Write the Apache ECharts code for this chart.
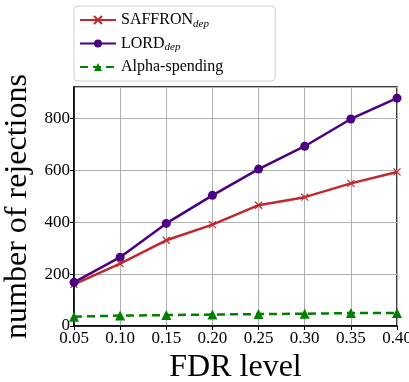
<!DOCTYPE html>
<html>
<head>
<meta charset="utf-8">
<script src="https://cdn.jsdelivr.net/npm/echarts@6/dist/echarts.min.js"></script>
<style>
html,body{margin:0;padding:0;background:#fff;}
#main{width:409px;height:382px;}
</style>
</head>
<body>
<div id="main"></div>
<script>
// FDR levels on the x axis
var fdrLevels = ['0.05','0.10','0.15','0.20','0.25','0.30','0.35','0.40'];
// number of rejections per method
var saffronDep = [160, 240, 330, 390, 465, 496, 549, 593];
var lordDep = [168, 265, 395, 503, 604, 692, 797, 877];
var alphaSpending = [36, 40, 42, 44, 46, 47, 50, 50];

var serif = 'Liberation Serif';
var xMark = 'path://M0,0L10,10M10,0L0,10';

var myChart = echarts.init(document.getElementById('main'));

var option = {
	animation: false,
	textStyle: {fontFamily: serif},
	legend: {
		orient: 'vertical',
		left: 74,
		top: 6,
		padding: [6, 52, 6, 5],
		itemGap: 6,
		itemWidth: 36,
		itemHeight: 10,
		borderColor: '#d0d0d0',
		borderWidth: 1,
		borderRadius: 4,
		data: ['SAFFRON', 'LORD', 'Alpha-spending'],
		formatter: function(name){
			if(name == 'Alpha-spending') return '{a|Alpha-spending}';
			return '{a|' + name + '}{b|dep}';
		},
		textStyle: {
			rich: {
				a: {fontFamily: serif, fontSize: 16, color: '#000'},
				b: {fontFamily: serif, fontSize: 11, fontStyle: 'italic', color: '#000', padding: [8, 0, 0, 0]}
			}
		}
	},
	grid: {
		left: 74,
		right: 12,
		top: 87,
		bottom: 56,
		outerBoundsMode: 'none',
		containLabel: false,
		show: true,
		borderColor: '#000',
		borderWidth: 1.5
	},
	xAxis: {
		type: 'category',
		data: fdrLevels,
		boundaryGap: false,
		name: 'FDR level',
		nameLocation: 'middle',
		nameGap: 22,
		nameTextStyle: {fontFamily: serif, fontSize: 32, color: '#000'},
		axisLine: {lineStyle: {color: '#000', width: 1.5}},
		axisTick: {show: true, length: 4, lineStyle: {color: '#000'}},
		axisLabel: {fontFamily: serif, fontSize: 17, color: '#000', margin: 4, showMaxLabel: true, hideOverlap: false},
		splitLine: {show: true, lineStyle: {color: '#b0b0b0', width: 1}}
	},
	yAxis: {
		type: 'value',
		min: 0,
		max: 920,
		interval: 200,
		name: 'number of rejections',
		nameLocation: 'middle',
		nameGap: 35,
		nameTextStyle: {fontFamily: serif, fontSize: 32, color: '#000'},
		axisLine: {show: true, lineStyle: {color: '#000', width: 1.5}},
		axisTick: {show: true, length: 4, lineStyle: {color: '#000'}},
		axisLabel: {fontFamily: serif, fontSize: 17, color: '#000', margin: 4, showMaxLabel: false},
		splitLine: {show: true, lineStyle: {color: '#b0b0b0', width: 1}}
	},
	series: [
		{
			name: 'SAFFRON',
			type: 'line',
			data: saffronDep,
			symbol: xMark,
			symbolSize: 7,
			color: '#c0282d',
			itemStyle: {color: '#c0282d', borderColor: '#c0282d', borderWidth: 1.2},
			lineStyle: {color: '#c0282d', width: 2.5}
		},
		{
			name: 'LORD',
			type: 'line',
			data: lordDep,
			symbol: 'circle',
			symbolSize: 9,
			color: '#4b0082',
			itemStyle: {color: '#4b0082'},
			lineStyle: {color: '#4b0082', width: 2.5}
		},
		{
			name: 'Alpha-spending',
			type: 'line',
			data: alphaSpending,
			symbol: 'triangle',
			symbolSize: 10,
			color: '#008000',
			itemStyle: {color: '#008000'},
			lineStyle: {color: '#008000', width: 2.5, type: [8, 5]}
		}
	]
};

myChart.setOption(option);
</script>
</body>
</html>
